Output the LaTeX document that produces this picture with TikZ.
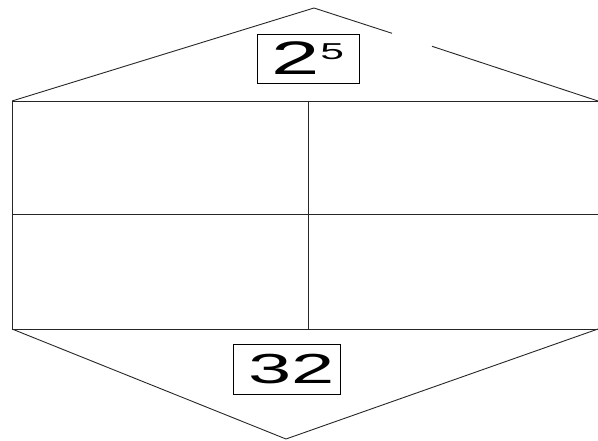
\documentclass[tikz,border=0pt]{standalone}
\usepackage{fontspec}
\setmainfont{Liberation Sans}
\usetikzlibrary{positioning}

\begin{document}
\begin{tikzpicture}[
    x=1pt, y=-1pt,
    edge/.style={line width=0.9pt, black!85},
    numbox/.style={draw, line width=0.9pt, inner sep=0pt},
]
    \useasboundingbox (0,0) rectangle (598,441);

    % Corners of the house shape
    \coordinate (top) at (314,8);
    \coordinate (gapa) at (392,33.3);
    \coordinate (gapb) at (432,46.3);
    \coordinate (tl) at (12,101);
    \coordinate (tr) at (598,101);
    \coordinate (ml) at (12,214);
    \coordinate (mr) at (598,214);
    \coordinate (bl) at (12,329);
    \coordinate (br) at (598,329);
    \coordinate (tm) at (308,101);
    \coordinate (bm) at (308,329);
    \coordinate (bottom) at (286,439);

    % Roof (with the gap on the right)
    \draw[edge] (tl) -- (top) -- (gapa);
    \draw[edge] (gapb) -- (tr);

    % Grid
    \draw[edge] (tr) -- (tl) -- (bl) -- (br);
    \draw[edge] (ml) -- (mr);
    \draw[edge] (tm) -- (bm);

    % Bottom point
    \draw[edge] (bl) -- (bottom) -- (br);

    % Labels
    \node[numbox, minimum width=102pt, minimum height=49pt] (power) at (308,58.5)
        {\scalebox{1.85}[1]{\fontsize{47}{47}\selectfont 2\raisebox{15pt}{\fontsize{23}{23}\selectfont 5}}};
    \node[numbox, minimum width=107pt, minimum height=50pt] (value) at (286.5,369)
        {\hspace*{10pt}\scalebox{1.85}[1]{\fontsize{42}{42}\selectfont 32}};
\end{tikzpicture}
\end{document}
